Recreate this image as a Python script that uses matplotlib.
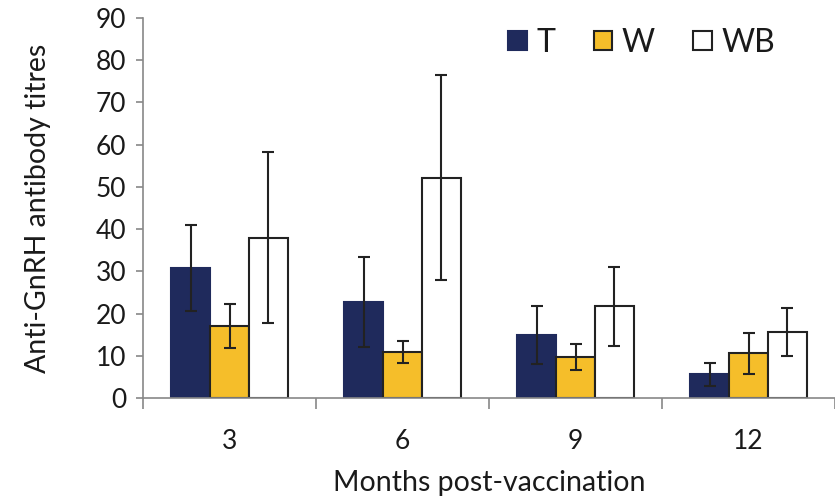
import numpy as np
import matplotlib
matplotlib.use("Agg")
import matplotlib.pyplot as plt
from matplotlib.patches import Patch

plt.rcParams["font.family"] = ["Lato", "DejaVu Sans"]

months = ["3", "6", "9", "12"]
groups = ["T", "W", "WB"]
means = {
    "T": [30.8, 22.8, 14.9, 5.6],
    "W": [17.0, 10.9, 9.7, 10.6],
    "WB": [38.0, 52.2, 21.7, 15.6],
}
errs = {
    "T": [10.1, 10.7, 6.9, 2.8],
    "W": [5.2, 2.5, 3.0, 4.8],
    "WB": [20.3, 24.2, 9.4, 5.6],
}
colors = {"T": "#1f2a5c", "W": "#f5be2a", "WB": "#ffffff"}
edges = {"T": "#1f2a5c", "W": "#222222", "WB": "#222222"}

fig = plt.figure(figsize=(8.35, 4.96), dpi=100)
ax = fig.add_axes([143 / 835, 1 - 398 / 496, 1 - 143 / 835, (398 - 18) / 496])

x = np.arange(len(months))
w = 0.224
for i, g in enumerate(groups):
    ax.bar(x + (i - 1) * w, means[g], w, color=colors[g], edgecolor=edges[g],
           linewidth=1.5, zorder=2)
    ax.errorbar(x + (i - 1) * w, means[g], yerr=errs[g], fmt="none",
                ecolor="#222222", elinewidth=1.5, capsize=4.5, capthick=1.5, zorder=3)

ax.set_xlim(-0.5, 3.5)
ax.set_ylim(0, 90)
ax.set_yticks(np.arange(0, 91, 10))
ax.set_xticks(x)
ax.set_xticklabels(months)
ax.set_xticks(np.arange(-0.5, 3.6, 1), minor=True)
ax.tick_params(axis="x", which="major", length=0, pad=22, labelsize=19)
ax.tick_params(axis="x", which="minor", length=8, color="#888888", width=1.2)
ax.tick_params(axis="y", length=5, color="#888888", width=1.2, labelsize=19,
               pad=7, labelcolor="#1a1a1a")
ax.tick_params(axis="x", labelcolor="#1a1a1a")

for s in ("top", "right"):
    ax.spines[s].set_visible(False)
for s in ("left", "bottom"):
    ax.spines[s].set_color("#888888")
    ax.spines[s].set_linewidth(1.2)

ax.set_ylabel("Anti-GnRH antibody titres", fontsize=20.5, color="#1a1a1a", labelpad=32)
ax.set_xlabel("Months post-vaccination", fontsize=20.5, color="#1a1a1a", labelpad=12)

handles = [Patch(facecolor=colors[g], edgecolor=edges[g], linewidth=1.5) for g in groups]
ax.legend(handles, groups, loc="upper right", bbox_to_anchor=(0.955, 1.05), ncol=3,
          frameon=False, fontsize=23, handlelength=0.58, handleheight=0.58,
          handletextpad=0.3, columnspacing=1.2, labelcolor="#1a1a1a")

fig.savefig("out.png", dpi=100)
